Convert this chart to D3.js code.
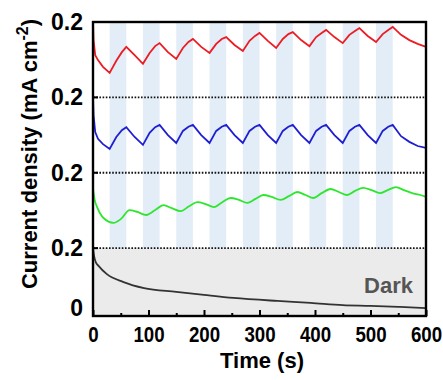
<!DOCTYPE html>
<html>
<head>
<meta charset="utf-8">
<script src="https://cdn.jsdelivr.net/npm/d3@7"></script>
<style>
  html, body { margin: 0; padding: 0; background: #fff; }
  svg { display: block; font-family: "Liberation Sans", Arial, sans-serif; }
</style>
</head>
<body>
<script>
// Chopped-light chronoamperometry, panels stacked with offsets

const width = 443;
const height = 380;

// light-on intervals (s)
const lightOn = [[30, 60], [90, 120], [150, 180], [210, 240], [270, 300],
                 [330, 360], [390, 420], [450, 480], [510, 540]];

const xTicks = [0, 100, 200, 300, 400, 500, 600];
const xMinorTicks = [50, 150, 250, 350, 450, 550];
const yTicks = [0.04, 0.2, 0.4, 0.6, 0.8];
const yTickLabels = ["0", "0.2", "0.2", "0.2", "0.2"];
const dividers = [0.2, 0.4, 0.6];

const redData = [
    [0, 0.800], [1, 0.752], [4, 0.712], [9, 0.699], [18, 0.681], [30, 0.665],
    [42, 0.697], [52, 0.720], [60, 0.734], [75, 0.712], [90, 0.689],
    [102, 0.718], [112, 0.736], [120, 0.744], [135, 0.720], [150, 0.702],
    [162, 0.731], [172, 0.747], [180, 0.755], [195, 0.734], [210, 0.718],
    [222, 0.742], [232, 0.755], [240, 0.760], [255, 0.739], [270, 0.723],
    [282, 0.750], [292, 0.763], [300, 0.771], [315, 0.750], [330, 0.731],
    [342, 0.755], [352, 0.768], [360, 0.773], [375, 0.752], [390, 0.736],
    [402, 0.760], [412, 0.771], [420, 0.779], [435, 0.760], [450, 0.744],
    [462, 0.766], [472, 0.776], [480, 0.784], [495, 0.763], [510, 0.747],
    [522, 0.768], [532, 0.779], [540, 0.787], [555, 0.766], [570, 0.752],
    [585, 0.742], [600, 0.734]
];

const blueData = [
    [0, 0.601], [1, 0.553], [4, 0.508], [9, 0.490], [18, 0.476], [30, 0.463],
    [42, 0.495], [52, 0.513], [60, 0.521], [75, 0.495], [90, 0.474],
    [102, 0.506], [112, 0.521], [120, 0.527], [135, 0.500], [150, 0.479],
    [162, 0.511], [172, 0.522], [180, 0.527], [195, 0.500], [210, 0.479],
    [222, 0.511], [232, 0.522], [240, 0.527], [255, 0.500], [270, 0.479],
    [282, 0.511], [292, 0.522], [300, 0.527], [315, 0.500], [330, 0.479],
    [342, 0.511], [352, 0.522], [360, 0.527], [375, 0.500], [390, 0.479],
    [402, 0.511], [412, 0.522], [420, 0.527], [435, 0.500], [450, 0.479],
    [462, 0.511], [472, 0.522], [480, 0.527], [495, 0.500], [510, 0.479],
    [522, 0.511], [532, 0.522], [540, 0.527], [555, 0.497], [570, 0.482],
    [585, 0.471], [600, 0.466]
];

const greenData = [
    [0, 0.357], [3, 0.328], [8, 0.307], [19, 0.280], [37, 0.267], [50, 0.277],
    [66, 0.301], [80, 0.296], [96, 0.288], [112, 0.301], [127, 0.314],
    [142, 0.306], [158, 0.298], [173, 0.311], [188, 0.322], [203, 0.317],
    [218, 0.309], [233, 0.322], [248, 0.333], [263, 0.328], [278, 0.320],
    [292, 0.330], [307, 0.341], [322, 0.336], [338, 0.328], [353, 0.338],
    [368, 0.349], [383, 0.341], [397, 0.333], [412, 0.346], [428, 0.357],
    [443, 0.349], [458, 0.341], [472, 0.352], [487, 0.360], [502, 0.354],
    [517, 0.346], [531, 0.354], [546, 0.362], [560, 0.354], [575, 0.346],
    [590, 0.341], [600, 0.336]
];

const darkData = [
    [0, 0.200], [2, 0.179], [5, 0.163], [10, 0.153], [25, 0.131], [55, 0.110],
    [92, 0.094], [150, 0.084], [200, 0.076], [253, 0.068], [332, 0.060],
    [392, 0.055], [450, 0.049], [500, 0.047], [553, 0.044], [600, 0.041]
];

const plot = { left: 93, right: 426, top: 22, bottom: 316 };

const x = d3.scaleLinear().domain([0, 600]).range([plot.left, plot.right]);
const y = d3.scaleLinear().domain([0.02, 0.8]).range([plot.bottom, plot.top]);

const svg = d3.select("body").append("svg")
    .attr("width", width)
    .attr("height", height);

svg.append("rect").attr("width", width).attr("height", height).attr("fill", "#fff");

// dark region
svg.append("rect")
    .attr("x", x(0)).attr("y", y(0.2))
    .attr("width", x(600) - x(0)).attr("height", y(0.02) - y(0.2))
    .attr("fill", "#ebebeb");

// light-on stripes
svg.selectAll("rect.stripe")
    .data(lightOn)
    .join("rect")
    .attr("class", "stripe")
    .attr("x", d => x(d[0]))
    .attr("y", y(0.8))
    .attr("width", d => x(d[1]) - x(d[0]))
    .attr("height", y(0.2) - y(0.8))
    .attr("fill", "#e3edf7");

// dotted dividers
svg.selectAll("line.divider")
    .data(dividers)
    .join("line")
    .attr("class", "divider")
    .attr("x1", x(0)).attr("x2", x(600))
    .attr("y1", d => y(d)).attr("y2", d => y(d))
    .attr("stroke", "#111")
    .attr("stroke-width", 1.8)
    .attr("stroke-dasharray", "1.6,1.6");

const line = d3.line().x(d => x(d[0])).y(d => y(d[1]));
const smooth = d3.line().x(d => x(d[0])).y(d => y(d[1])).curve(d3.curveMonotoneX);

svg.append("path").datum(darkData).attr("d", smooth)
    .attr("fill", "none").attr("stroke", "#333").attr("stroke-width", 1.8);
svg.append("path").datum(greenData).attr("d", smooth)
    .attr("fill", "none").attr("stroke", "#2ee62e").attr("stroke-width", 1.8);
svg.append("path").datum(blueData).attr("d", line)
    .attr("fill", "none").attr("stroke", "#1f1fd2").attr("stroke-width", 1.8);
svg.append("path").datum(redData).attr("d", line)
    .attr("fill", "none").attr("stroke", "#ec1c24").attr("stroke-width", 1.8);

// Dark label
svg.append("text")
    .attr("x", 413).attr("y", 293)
    .attr("text-anchor", "end")
    .attr("font-size", 22).attr("font-weight", "bold")
    .attr("fill", "#555")
    .text("Dark");

// x axis
const xAxis = svg.append("g")
    .attr("transform", `translate(0,${plot.bottom})`)
    .call(d3.axisBottom(x).tickValues(xTicks).tickSizeInner(-6).tickSizeOuter(0).tickPadding(10));
xAxis.selectAll("text")
    .attr("font-size", 22).attr("font-weight", "bold").attr("fill", "#000")
    .attr("font-family", "Liberation Sans, Arial, sans-serif")
    .attr("transform", "scale(0.85,1)");
xAxis.select(".domain").remove();
xAxis.selectAll("line").attr("stroke", "#000").attr("stroke-width", 2);

const xMinor = svg.append("g")
    .attr("transform", `translate(0,${plot.bottom})`)
    .call(d3.axisBottom(x).tickValues(xMinorTicks).tickSizeInner(-3).tickSizeOuter(0).tickFormat(""));
xMinor.select(".domain").remove();
xMinor.selectAll("line").attr("stroke", "#000").attr("stroke-width", 2);

// y axis
const yAxis = svg.append("g")
    .attr("transform", `translate(${plot.left},0)`)
    .call(d3.axisLeft(y).tickValues(yTicks).tickSizeInner(0).tickSizeOuter(0).tickPadding(10)
        .tickFormat((d, i) => yTickLabels[i]));
yAxis.select(".domain").remove();
yAxis.selectAll("text")
    .attr("font-size", 23).attr("font-weight", "bold").attr("fill", "#000")
    .attr("font-family", "Liberation Sans, Arial, sans-serif");

// small inward marks at the panel baselines
svg.selectAll("line.ymark")
    .data(dividers)
    .join("line")
    .attr("class", "ymark")
    .attr("x1", x(0)).attr("x2", x(0) + 5)
    .attr("y1", d => y(d)).attr("y2", d => y(d))
    .attr("stroke", "#000").attr("stroke-width", 2);

// frame
svg.append("rect")
    .attr("x", plot.left).attr("y", plot.top)
    .attr("width", plot.right - plot.left).attr("height", plot.bottom - plot.top)
    .attr("fill", "none").attr("stroke", "#000").attr("stroke-width", 2.4);

// axis titles
svg.append("text")
    .attr("x", 262).attr("y", 368)
    .attr("text-anchor", "middle")
    .attr("font-size", 22).attr("font-weight", "bold")
    .text("Time (s)");

const yTitle = svg.append("text")
    .attr("transform", "translate(37,154) rotate(-90)")
    .attr("text-anchor", "middle")
    .attr("font-size", 22).attr("font-weight", "bold");
yTitle.append("tspan").text("Current density ");
yTitle.append("tspan").text("(mA cm");
yTitle.append("tspan").attr("font-size", 16).attr("dy", -9).text("-2");
yTitle.append("tspan").attr("dy", 9).text(")");
</script>
</body>
</html>
